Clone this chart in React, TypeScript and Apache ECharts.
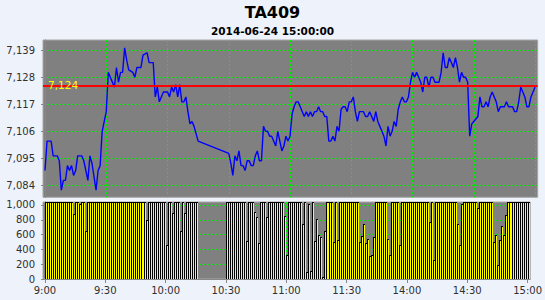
import React, { useEffect, useRef } from "react";
import * as echarts from "echarts";

// ---------- data ----------
const chartTitle = "TA409";
const chartSubtitle = "2014-06-24 15:00:00";
const xTickLabels = ["9:00", "9:30", "10:00", "10:30", "11:00", "11:30", "14:00", "14:30", "15:00"];
const priceTicks = [7084, 7095, 7106, 7117, 7128, 7139];
const volumeTicks = [0, 200, 400, 600, 800, 1000];
const markPrice = 7124.4;

// early morning: price turning points (minutes without a point lie on straight segments)
const earlyTimes = [
  "9:00", "9:01", "9:03", "9:04", "9:06", "9:07", "9:08", "9:09", "9:10", "9:11",
  "9:12", "9:13", "9:14", "9:15", "9:16", "9:18", "9:19", "9:21", "9:22", "9:23",
  "9:25", "9:26", "9:27", "9:28", "9:29", "9:30", "9:31", "9:32", "9:34", "9:35",
  "9:36", "9:37", "9:38", "9:39", "9:40", "9:41", "9:43", "9:44", "9:45", "9:47",
  "9:48", "9:50", "9:51", "9:53", "9:54", "9:55", "9:56", "9:58", "10:00", "10:01",
  "10:02", "10:03", "10:04", "10:05", "10:06", "10:07", "10:08", "10:09", "10:10", "10:11",
  "10:12", "10:13", "10:15",
];
const earlyPrices = [
  7090, 7102, 7102, 7096, 7096, 7094, 7082, 7086, 7086, 7092,
  7090, 7092, 7088, 7090, 7096, 7096, 7094, 7086, 7096, 7093,
  7082, 7090, 7092, 7106, 7110, 7114, 7130, 7128, 7124, 7132,
  7126, 7130, 7130, 7140, 7135, 7131, 7130, 7128, 7132, 7132,
  7137, 7138, 7134, 7134, 7120, 7124, 7118, 7122, 7122, 7120,
  7124, 7122, 7125, 7120, 7125, 7118, 7118, 7120, 7114, 7109,
  7110, 7108, 7102,
];

// from 10:30 on: one price per trading minute
const lateStart = "10:30";
const latePrices = [
  7097, 7093, 7088, 7096, 7094, 7098, 7092, 7092, 7090, 7094,
  7094, 7092, 7092, 7096, 7098, 7094, 7094, 7108, 7106, 7106,
  7104, 7104, 7102, 7100, 7106, 7102, 7098, 7100, 7104, 7102,
  7104, 7113, 7116, 7118, 7118, 7116, 7114, 7112, 7114, 7112,
  7114, 7112, 7114, 7114, 7116, 7114, 7114, 7112, 7112, 7102,
  7102, 7104, 7102, 7108, 7106, 7115, 7116, 7116, 7114, 7118,
  7118, 7120, 7114, 7110, 7114, 7114, 7114, 7112, 7112, 7114,
  7112, 7110, 7114, 7110, 7108, 7106, 7104, 7100, 7108, 7104,
  7106, 7110, 7108, 7115, 7118, 7120, 7118, 7118, 7120, 7126,
  7130, 7128, 7130, 7128, 7126, 7122, 7128, 7128, 7124, 7128,
  7128, 7126, 7126, 7126, 7130, 7138, 7132, 7132, 7136, 7134,
  7132, 7136, 7132, 7126, 7130, 7128, 7128, 7126, 7104, 7109,
  7110, 7111, 7112, 7120, 7116, 7116, 7118, 7116, 7120, 7122,
  7120, 7118, 7114, 7116, 7116, 7116, 7118, 7116, 7116, 7116,
  7114, 7114, 7118, 7124, 7122, 7120, 7116, 7116, 7120, 7122,
  7124,
];

// volume per minute (values above the axis top are clipped by the plot)
const amVolStart = "9:00";
const amVolumes = [
  1200, 1200, 1200, 1200, 1200, 1200, 1200, 1200, 1200, 1200,
  1200, 1200, 1200, 1200, 880, 1200, 1200, 1010, 1200, 1200,
  650, 1200, 1200, 1200, 1200, 1200, 1200, 1200, 1200, 1200,
  1200, 1200, 1200, 1200, 1200, 1200, 1200, 1200, 1200, 1200,
  1200, 1200, 1200, 1200, 1200, 1200, 1200, 1200, 1200, 1200,
  800, 1200, 1200, 1200, 1200, 1200, 1200, 1200, 1200, 1200,
  455, 1200, 1200, 890, 1200, 1200, 1200, 655, 1200, 890,
  1200, 1200, 1200, 1200, 1200, 1200,
];
const pmVolStart = "10:30";
const pmVolumes = [
  1200, 1200, 1200, 1200, 1200, 1200, 1200, 1200, 1200, 1200,
  518, 1200, 1200, 1200, 900, 840, 482, 1200, 1200, 1200,
  833, 1200, 1200, 1200, 1200, 1200, 1200, 1200, 1200, 847,
  330, 1200, 1200, 1200, 1200, 1200, 1200, 1200, 743, 1200,
  95, 1010, 108, 1200, 518, 811, 590, 563, 31, 644,
  1200, 1200, 1200, 495, 1200, 522, 1200, 1200, 1200, 1200,
  1200, 1200, 1200, 1200, 1200, 1200, 495, 577, 743, 486,
  545, 311, 320, 568, 1200, 1200, 1200, 1200, 1200, 1200,
  536, 324, 1200, 1200, 1200, 1200, 459, 1200, 1200, 1200,
  1200, 1200, 1200, 1200, 1200, 1200, 1200, 1200, 1200, 1200,
  1200, 770, 1200, 257, 1200, 1200, 1200, 1200, 1200, 1200,
  1200, 1200, 1200, 1200, 1200, 743, 464, 1010, 1200, 1200,
  1200, 1200, 1200, 1200, 1200, 959, 1200, 1200, 1200, 1200,
  1200, 1200, 1200, 495, 590, 194, 522, 712, 590, 860,
  1200, 1200, 1200, 1200, 1200, 1200, 1200, 1200, 1200, 1200,
  1200,
];

// ---------- trading-time scale (lunch break 11:30-13:30 removed) ----------
const toMin = (t: string) => {
  const [h, m] = t.split(":").map(Number);
  return h * 60 + m;
};
const OPEN = toMin("9:00");
const AM_END = toMin("11:30");
const PM_START = toMin("13:30");
const AM_LEN = AM_END - OPEN;
function minuteIndex(t: string): number {
  const m = toMin(t);
  return m <= AM_END ? m - OPEN : AM_LEN + (m - PM_START);
}
function timeAt(i: number): string {
  const m = i <= AM_LEN ? OPEN + i : PM_START + (i - AM_LEN);
  return `${Math.floor(m / 60)}:${String(m % 60).padStart(2, "0")}`;
}

const fmt = (v: number) => Math.round(v).toLocaleString("en-US");

export default function App() {
  const ref = useRef<HTMLDivElement>(null);
  useEffect(() => {
    if (!ref.current) return;
    const chart = echarts.init(ref.current, undefined, { renderer: "svg" });
    const font = "DejaVu Sans";

    const priceData: [number, number][] = [];
    earlyTimes.forEach((t, k) => priceData.push([minuteIndex(t), earlyPrices[k]]));
    const ls = minuteIndex(lateStart);
    latePrices.forEach((p, k) => priceData.push([minuteIndex(timeAt(ls + k)), p]));

    // each volume bar covers its whole minute [t, t+1]
    const volData: [number, number][] = [];
    const a0 = minuteIndex(amVolStart);
    amVolumes.forEach((v, k) => volData.push([minuteIndex(timeAt(a0 + k)), v]));
    const p0 = minuteIndex(pmVolStart);
    pmVolumes.forEach((v, k) => volData.push([minuteIndex(timeAt(p0 + k)), v]));

    const xTicks = xTickLabels.map(minuteIndex);
    const xMin = -0.98;
    const xMax = 241.3;
    const volMax = 1040;
    const gridLine = {
      show: true,
      lineStyle: { color: "#00ee00", type: [2, 2] as any, width: 1 },
    };
    const axisGrey = { color: "#888888", width: 1 };
    const labelStyle = { fontFamily: font, fontSize: 10, color: "#303030" };

    chart.setOption({
      animation: false,
      backgroundColor: "#eef2fa",
      title: {
        text: chartTitle,
        subtext: chartSubtitle,
        left: "center",
        top: -1,
        itemGap: 5,
        textStyle: { fontFamily: font, fontSize: 16, fontWeight: "bold", color: "#000" },
        subtextStyle: { fontFamily: font, fontSize: 10.5, fontWeight: "bold", color: "#000" },
      },
      grid: [
        {
          left: 43, right: 7.3, top: 40, height: 157.3,
          show: true, backgroundColor: "#808080", borderColor: "#a8a8a8", borderWidth: 1,
        },
        {
          left: 43, right: 7.3, top: 202, height: 77,
          show: true, backgroundColor: "#808080", borderColor: "#a8a8a8", borderWidth: 1,
        },
      ],
      xAxis: [
        {
          type: "value", gridIndex: 0, min: xMin, max: xMax,
          axisLine: { show: false },
          axisTick: { show: false, customValues: xTicks },
          axisLabel: { show: false, customValues: xTicks },
          splitLine: gridLine,
        },
        {
          type: "value", gridIndex: 1, min: xMin, max: xMax,
          axisLine: { show: true, onZero: false, lineStyle: axisGrey },
          axisTick: { show: true, length: 4, customValues: xTicks, lineStyle: axisGrey },
          axisLabel: {
            ...labelStyle, margin: 6, customValues: xTicks,
            formatter: (v: number) => timeAt(Math.round(v)),
          },
          splitLine: gridLine,
        },
      ],
      yAxis: [
        {
          type: "value", gridIndex: 0, min: 7079.1, max: 7143.2,
          axisLine: { show: true, lineStyle: axisGrey },
          axisTick: { show: true, length: 4, customValues: priceTicks, lineStyle: axisGrey },
          axisLabel: { ...labelStyle, margin: 8, customValues: priceTicks, formatter: (v: number) => fmt(v) },
          splitLine: gridLine,
        },
        {
          type: "value", gridIndex: 1, min: 0, max: volMax,
          axisLine: { show: true, lineStyle: axisGrey },
          axisTick: { show: true, length: 4, customValues: volumeTicks, lineStyle: axisGrey },
          axisLabel: { ...labelStyle, margin: 8, customValues: volumeTicks, formatter: (v: number) => fmt(v) },
          splitLine: gridLine,
        },
      ],
      series: [
        {
          type: "custom",
          xAxisIndex: 1,
          yAxisIndex: 1,
          data: volData,
          clip: true,
          renderItem: (params: any, api: any) => {
            const t = api.value(0);
            const v = api.value(1);
            const pTop = api.coord([t, Math.min(v, volMax)]);
            const pEnd = api.coord([t + 1, 0]);
            const x0 = Math.round(pTop[0]);
            const x1 = Math.round(pEnd[0]);
            const yb = Math.round(pEnd[1]);
            const yt = Math.round(pTop[1]);
            return {
              type: "group",
              children: [
                {
                  type: "rect",
                  shape: { x: x0, y: yt, width: x1 - x0, height: yb - yt },
                  style: { fill: "#000000" },
                },
                {
                  type: "rect",
                  shape: { x: x0 + 1, y: yt + 1, width: Math.max(0, x1 - x0 - 1), height: Math.max(0, yb - yt - 1) },
                  style: { fill: "#ffff00" },
                },
              ],
            };
          },
        },
        {
          type: "line",
          xAxisIndex: 0,
          yAxisIndex: 0,
          data: priceData,
          showSymbol: false,
          symbol: "none",
          lineStyle: { color: "#0000ff", width: 1.4 },
          z: 3,
        },
        {
          type: "custom",
          xAxisIndex: 0,
          yAxisIndex: 0,
          clip: true,
          silent: true,
          z: 4,
          data: [[markPrice]],
          renderItem: (params: any, api: any) => {
            const y = Math.round(api.coord([xMin, api.value(0)])[1]);
            const xa = api.coord([xMin, 0])[0];
            const xb = api.coord([xMax, 0])[0];
            return {
              type: "group",
              children: [
                {
                  type: "line",
                  shape: { x1: xa, y1: y, x2: xb, y2: y },
                  style: { stroke: "#ff0000", lineWidth: 2 },
                },
                {
                  type: "text",
                  x: xa + 5,
                  y: y - 1,
                  style: {
                    text: fmt(api.value(0)),
                    fill: "#ffff00",
                    font: `10.5px "${font}"`,
                    verticalAlign: "middle",
                    align: "left",
                  },
                },
              ],
            };
          },
        },
      ],
    });
    return () => chart.dispose();
  }, []);
  return (
    <div
      ref={ref}
      style={{ position: "absolute", left: 0, top: 0, width: 545, height: 300 }}
    />
  );
}
